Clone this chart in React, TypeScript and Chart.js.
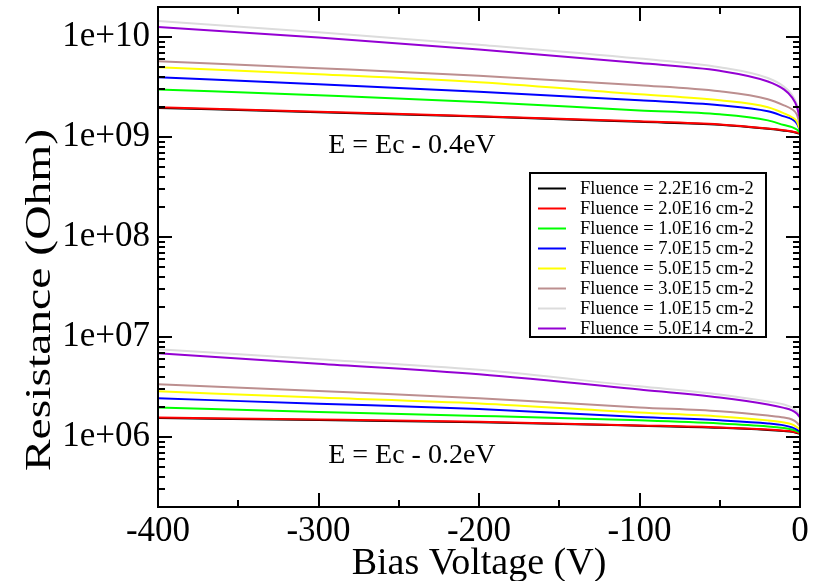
import { useEffect, useRef } from 'react';
import { Chart, registerables } from 'chart.js';

Chart.register(...registerables);

// Bias voltage sample points (V)
const voltages = [-400, -300, -200, -100, -50, -20, -10, -5, -2, 0];

const fluenceLabels = [
  'Fluence = 2.2E16 cm-2',
  'Fluence = 2.0E16 cm-2',
  'Fluence = 1.0E16 cm-2',
  'Fluence = 7.0E15 cm-2',
  'Fluence = 5.0E15 cm-2',
  'Fluence = 3.0E15 cm-2',
  'Fluence = 1.0E15 cm-2',
  'Fluence = 5.0E14 cm-2',
];
const seriesColors = ['#000000', '#ff0000', '#00ff00', '#0000ff', '#ffff00', '#bc8f8f', '#dcdcdc', '#9400d3'];

// E = Ec - 0.4 eV (Ohm)
const deep22E16 = [1.96e9, 1.77e9, 1.61e9, 1.42e9, 1.33e9, 1.21e9, 1.16e9, 1.13e9, 1.10e9, 1.08e9];
const deep20E16 = [1.99e9, 1.79e9, 1.62e9, 1.44e9, 1.34e9, 1.22e9, 1.17e9, 1.14e9, 1.11e9, 1.09e9];
const deep10E16 = [3.0e9, 2.62e9, 2.25e9, 1.85e9, 1.69e9, 1.47e9, 1.32e9, 1.26e9, 1.19e9, 1.11e9];
const deep70E15 = [3.97e9, 3.38e9, 2.84e9, 2.33e9, 2.08e9, 1.81e9, 1.61e9, 1.51e9, 1.37e9, 1.17e9];
const deep50E15 = [5.0e9, 4.26e9, 3.54e9, 2.68e9, 2.33e9, 1.99e9, 1.73e9, 1.58e9, 1.44e9, 1.19e9];
const deep30E15 = [5.74e9, 4.89e9, 4.11e9, 3.30e9, 2.87e9, 2.39e9, 2.08e9, 1.90e9, 1.69e9, 1.31e9];
const deep10E15 = [1.45e10, 1.12e10, 8.4e9, 6.1e9, 5.0e9, 3.9e9, 3.2e9, 2.65e9, 2.15e9, 1.6e9];
const deep50E14 = [1.26e10, 9.9e9, 7.5e9, 5.5e9, 4.6e9, 3.6e9, 3.0e9, 2.5e9, 2.03e9, 1.5e9];

// E = Ec - 0.2 eV (Ohm)
const shallow22E16 = [1.55e6, 1.48e6, 1.41e6, 1.30e6, 1.24e6, 1.18e6, 1.15e6, 1.13e6, 1.10e6, 1.08e6];
const shallow20E16 = [1.57e6, 1.50e6, 1.42e6, 1.31e6, 1.25e6, 1.19e6, 1.16e6, 1.14e6, 1.11e6, 1.09e6];
const shallow10E16 = [1.98e6, 1.78e6, 1.63e6, 1.47e6, 1.37e6, 1.28e6, 1.23e6, 1.19e6, 1.15e6, 1.11e6];
const shallow70E15 = [2.44e6, 2.16e6, 1.91e6, 1.59e6, 1.47e6, 1.37e6, 1.31e6, 1.25e6, 1.19e6, 1.14e6];
const shallow50E15 = [2.87e6, 2.49e6, 2.17e6, 1.76e6, 1.61e6, 1.47e6, 1.40e6, 1.34e6, 1.26e6, 1.19e6];
const shallow30E15 = [3.37e6, 2.89e6, 2.45e6, 1.98e6, 1.81e6, 1.64e6, 1.57e6, 1.50e6, 1.40e6, 1.28e6];
const shallow10E15 = [7.57e6, 6.01e6, 4.71e6, 3.22e6, 2.67e6, 2.27e6, 2.12e6, 1.98e6, 1.81e6, 1.64e6];
const shallow50E14 = [6.9e6, 5.42e6, 4.25e6, 3.0e6, 2.49e6, 2.12e6, 1.96e6, 1.85e6, 1.72e6, 1.57e6];

const deepSeries = [deep22E16, deep20E16, deep10E16, deep70E15, deep50E15, deep30E15, deep10E15, deep50E14];
const shallowSeries = [shallow22E16, shallow20E16, shallow10E16, shallow70E15, shallow50E15, shallow30E15, shallow10E15, shallow50E14];

const xTickValues = [-400, -300, -200, -100, 0];
const yTickValues = [1e6, 1e7, 1e8, 1e9, 1e10];
const yTickLabels = ['1e+06', '1e+07', '1e+08', '1e+09', '1e+10'];

const levelLabels = ['E = Ec - 0.4eV', 'E = Ec - 0.2eV'];
const levelLabelX = [-294, -294];
const levelLabelY = [7.0e8, 5.55e5];

const xTitle = 'Bias Voltage (V)';
const yTitle = 'Resistance (Ohm)';

const FONT = "'Liberation Serif', 'Times New Roman', serif";

const decorPlugin = {
  id: 'decor',
  afterDraw(chart: any) {
    const { ctx, chartArea: a, scales } = chart;
    const xs = scales.x;
    const ys = scales.y;
    ctx.save();
    ctx.strokeStyle = '#000';
    ctx.lineWidth = 2;
    const seg = (x1: number, y1: number, x2: number, y2: number) => {
      ctx.beginPath();
      ctx.moveTo(x1, y1);
      ctx.lineTo(x2, y2);
      ctx.stroke();
    };
    // y ticks (log, inward, both sides)
    const eMin = Math.floor(Math.log10(ys.min));
    const eMax = Math.ceil(Math.log10(ys.max));
    for (let e = eMin; e <= eMax; e++) {
      for (let m = 1; m <= 9; m++) {
        const v = m * Math.pow(10, e);
        if (v < ys.min * 0.999 || v > ys.max * 1.001) continue;
        const py = Math.round(ys.getPixelForValue(v));
        const len = m === 1 ? 14 : 7;
        seg(a.left, py, a.left + len, py);
        seg(a.right, py, a.right - len, py);
      }
    }
    // x ticks (inward, bottom and top)
    for (let v = xs.min; v <= xs.max + 0.001; v += 50) {
      const px = Math.round(xs.getPixelForValue(v));
      const len = Math.round(v) % 100 === 0 ? 14 : 7;
      seg(px, a.bottom, px, a.bottom - len);
      seg(px, a.top, px, a.top + len);
    }
    // frame
    ctx.strokeRect(a.left, a.top, a.right - a.left, a.bottom - a.top);

    // energy-level annotations
    ctx.fillStyle = '#000';
    ctx.font = `28px ${FONT}`;
    ctx.textAlign = 'left';
    ctx.textBaseline = 'alphabetic';
    levelLabels.forEach((t, i) => {
      ctx.fillText(t, xs.getPixelForValue(levelLabelX[i]), ys.getPixelForValue(levelLabelY[i]));
    });

    // legend
    const lx = 530, ly = 173, lw = 236, lh = 164;
    ctx.fillStyle = '#fff';
    ctx.fillRect(lx, ly, lw, lh);
    ctx.strokeStyle = '#000';
    ctx.lineWidth = 2;
    ctx.strokeRect(lx, ly, lw, lh);
    ctx.font = `18.5px ${FONT}`;
    ctx.textBaseline = 'middle';
    fluenceLabels.forEach((t, i) => {
      const cy = ly + 15.5 + i * 20;
      ctx.strokeStyle = seriesColors[i];
      ctx.lineWidth = 2;
      seg(lx + 8, cy, lx + 36, cy);
      ctx.fillStyle = '#000';
      ctx.fillText(t, lx + 50, cy + 1);
    });

    // axis titles
    ctx.fillStyle = '#000';
    ctx.font = `38px ${FONT}`;
    ctx.textAlign = 'center';
    ctx.textBaseline = 'alphabetic';
    ctx.fillText(xTitle, (a.left + a.right) / 2, 574);

    ctx.save();
    ctx.translate(50, 300);
    ctx.rotate(-Math.PI / 2);
    ctx.scale(1.36, 1);
    ctx.font = `35px ${FONT}`;
    ctx.fillText(yTitle, 0, 0);
    ctx.restore();

    ctx.restore();
  },
};

export default function App() {
  const ref = useRef<HTMLCanvasElement | null>(null);
  useEffect(() => {
    if (!ref.current) return;
    const datasets: any[] = [];
    const groups = [deepSeries, shallowSeries];
    groups.forEach((group, g) => {
      group.forEach((vals, i) => {
        datasets.push({
          label: fluenceLabels[i] + (g === 0 ? ' (0.4eV)' : ' (0.2eV)'),
          data: voltages.map((v, k) => ({ x: v, y: vals[k] })),
          borderColor: seriesColors[i],
          backgroundColor: seriesColors[i],
          borderWidth: 2,
          pointRadius: 0,
          cubicInterpolationMode: 'monotone',
          fill: false,
          order: 10 - i,
        });
      });
    });
    const chart = new Chart(ref.current, {
      type: 'line',
      data: { datasets },
      options: {
        animation: false,
        responsive: false,
        devicePixelRatio: 1,
        layout: { padding: { top: 7, right: 23, left: 0, bottom: 0 } },
        plugins: { legend: { display: false }, tooltip: { enabled: false } },
        scales: {
          x: {
            type: 'linear',
            min: -400,
            max: 0,
            afterBuildTicks: (s: any) => {
              s.ticks = xTickValues.map((v) => ({ value: v }));
            },
            afterFit: (s: any) => {
              s.height = 74;
              s.paddingLeft = 0;
              s.paddingRight = 0;
            },
            grid: { display: false, drawTicks: false },
            border: { display: false },
            ticks: {
              color: '#000',
              font: { family: FONT, size: 35 },
              padding: 4,
              maxRotation: 0,
              autoSkip: false,
              callback: (v: any) => String(v),
            },
          },
          y: {
            type: 'logarithmic',
            min: 2e5,
            max: 2e10,
            afterBuildTicks: (s: any) => {
              s.ticks = yTickValues.map((v) => ({ value: v }));
            },
            afterFit: (s: any) => {
              s.width = 158;
              s.paddingTop = 0;
              s.paddingBottom = 0;
            },
            grid: { display: false, drawTicks: false },
            border: { display: false },
            ticks: {
              color: '#000',
              font: { family: FONT, size: 35 },
              padding: 8,
              autoSkip: false,
              callback: (_v: any, i: number) => yTickLabels[i],
            },
          },
        },
      } as any,
      plugins: [decorPlugin],
    });
    return () => chart.destroy();
  }, []);
  return (
    <div style={{ position: 'absolute', left: 0, top: 0, width: 823, height: 581, background: '#fff' }}>
      <canvas ref={ref} width={823} height={581} style={{ display: 'block' }} />
    </div>
  );
}
